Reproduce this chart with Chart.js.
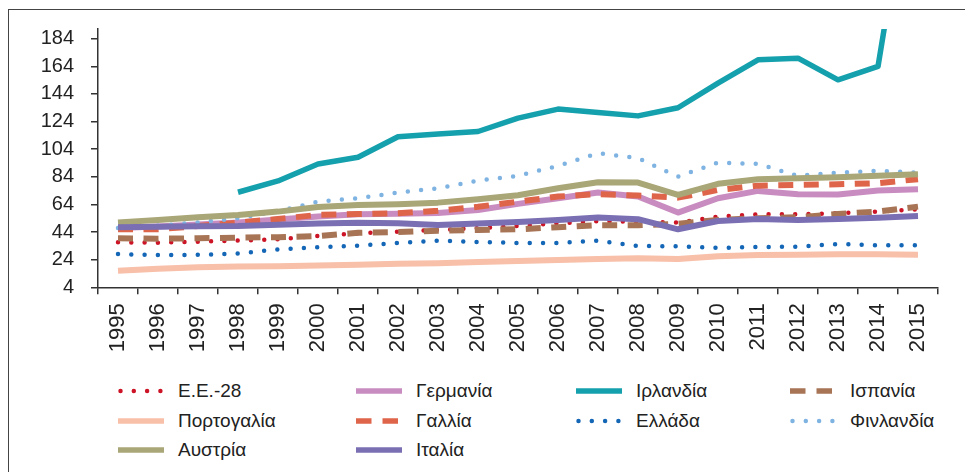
<!DOCTYPE html>
<html>
<head>
<meta charset="utf-8">
<script src="https://cdn.jsdelivr.net/npm/chart.js@4/dist/chart.umd.min.js"></script>
<style>
  body { margin: 0; background: #fff; font-family: "Liberation Sans", Arial, sans-serif; }
  #wrap { position: relative; width: 965px; height: 472px; overflow: hidden; }
  #frame { position: absolute; left: 8px; top: 9px; right: -2px; bottom: -2px;
           border-top: 1px solid #444; border-left: 1px solid #444; }
  #chart { position: absolute; left: 0; top: 0; }
  .item { position: absolute; height: 24px; display: flex; align-items: center;
          font-size: 19px; color: #222; white-space: nowrap; }
  .item svg { width: 46px; height: 10px; margin-right: 14px; }
</style>
</head>
<body>
<div id="wrap">
  <div id="frame"></div>
  <canvas id="chart" width="965" height="372"></canvas>
  <div id="legend"></div>
</div>
<script>
const years = ["1995","1996","1997","1998","1999","2000","2001","2002","2003","2004","2005",
               "2006","2007","2008","2009","2010","2011","2012","2013","2014","2015"];
const yTicks = [4, 24, 44, 64, 84, 104, 124, 144, 164, 184];

const eu28     = [36.6, 36.3, 37, 37.8, 38.8, 41.2, 43, 44.3, 45.5, 46.8, 48.4, 50.4, 51.8, 51.5, 50.8, 55.2, 56.9, 56.9, 57.6, 58.8, 60.5];
const germany  = [47, 48, 49.5, 51, 53, 55.2, 56.9, 57.3, 57.8, 60, 64.4, 68.5, 72.6, 69.7, 58.1, 68.5, 73.8, 71.4, 71.2, 74, 75];
const ireland  = [null, null, null, 72.8, 81, 93.3, 98.2, 113, 114.9, 116.8, 126.5, 133, 130.5, 128.1, 134, 151.8, 168.7, 169.9, 154.2, 163.9, 340];
const spain    = [39.5, 39.2, 39.5, 40, 40.3, 41, 43.5, 44, 45, 45.5, 46, 47.5, 49, 49, 49.9, 52.8, 54, 54.7, 57.1, 58.8, 62.4];
const portugal = [16, 17.5, 18.5, 19, 19.3, 19.8, 20.3, 21, 21.5, 22.3, 23, 23.7, 24.5, 25, 24.5, 26.5, 27.3, 27.5, 28, 28, 27.6];
const france   = [46, 46, 48.4, 50.8, 53.5, 56.4, 57, 57.6, 59.4, 62.3, 66, 69.7, 71.5, 70.4, 68.9, 74.5, 77.6, 78.1, 78.6, 79.4, 82.3];
const greece   = [28.1, 27.3, 27.5, 28.4, 31.5, 33, 34.1, 36.1, 37.8, 36.8, 36.1, 36.1, 37.8, 33.9, 33.7, 32.5, 33.2, 33.4, 35.4, 34.4, 34.5];
const finland  = [47, 48.5, 51, 54, 59, 66, 68.5, 72.6, 75.7, 81.3, 84.7, 91.9, 101.1, 97.5, 84.1, 94.3, 93.3, 84.7, 87, 88.3, 87];
const austria  = [51, 52.8, 54.7, 56.4, 58.8, 62.2, 63.6, 64.2, 65.3, 67.8, 70.6, 75.7, 80, 79.8, 70.9, 78.9, 82.3, 83, 83.7, 84.7, 85.9];
const italy    = [47.5, 47.8, 48.2, 48.4, 49.3, 50.2, 50.8, 50.4, 49.1, 50.1, 51.3, 52.8, 54.5, 53.3, 46, 52, 53.5, 52.8, 53.5, 54.4, 55.7];

const dots = [0, 13.3];
const dashes = [15, 10.5];

function series(label, data, color, width, dash) {
  return {
    label: label,
    data: data,
    borderColor: color,
    backgroundColor: color,
    borderWidth: width,
    borderDash: dash || [],
    borderCapStyle: dash === dots ? "round" : "butt",
    borderJoinStyle: "round",
    pointRadius: 0,
    tension: 0,
    spanGaps: false,
    fill: false,
  };
}

const datasets = [
  series("Ε.Ε.-28", eu28, "#cc1426", 4.5, dots),
  series("Γερμανία", germany, "#c98cc0", 6),
  series("Ιρλανδία", ireland, "#14a0ac", 5.5),
  series("Ισπανία", spain, "#a87456", 6, dashes),
  series("Πορτογαλία", portugal, "#f8bfa9", 6),
  series("Γαλλία", france, "#df654a", 6, dashes),
  series("Ελλάδα", greece, "#1466b6", 4.5, dots),
  series("Φινλανδία", finland, "#7fb3e2", 4.5, dots),
  series("Αυστρία", austria, "#a9a677", 6),
  series("Ιταλία", italy, "#7a6fb2", 6),
];
// later series are drawn on top, as in the source figure
datasets.forEach((d, i) => { d.order = -i; });

const chart = new Chart(document.getElementById("chart"), {
  type: "line",
  data: { labels: years, datasets: datasets },
  options: {
    responsive: false,
    animation: false,
    layout: { padding: { top: 29, right: 27, left: 0, bottom: 0 } },
    plugins: { legend: { display: false }, tooltip: { enabled: false } },
    scales: {
      x: {
        offset: true,
        grid: { offset: true, drawOnChartArea: false, drawTicks: true, tickLength: 7, tickColor: "#333", lineWidth: 1.5 },
        border: { display: true, color: "#333", width: 1.5 },
        ticks: { color: "#222", font: { family: "Liberation Sans", size: 22 }, minRotation: 90, maxRotation: 90, padding: 9, autoSkip: false },
        afterFit: (scale) => { scale.height = 372 - 287.3; },
      },
      y: {
        min: 4,
        max: 191,
        grid: { drawOnChartArea: false, drawTicks: true, tickLength: 7, tickColor: "#333", lineWidth: 1.5 },
        border: { display: true, color: "#333", width: 1.5 },
        ticks: { color: "#222", font: { family: "Liberation Sans", size: 20 }, padding: 17 },
        afterBuildTicks: (axis) => { axis.ticks = yTicks.map(v => ({ value: v })); },
        afterFit: (scale) => { scale.width = 98; },
      },
    },
  },
});

// legend laid out in four columns like the original
const colX = [118, 356, 576, 790];
const rowY = [379, 409, 438];
const legend = document.getElementById("legend");
chart.data.datasets.forEach((ds, i) => {
  const item = document.createElement("div");
  item.className = "item";
  item.style.left = colX[i % 4] + "px";
  item.style.top = rowY[Math.floor(i / 4)] + "px";
  const dotted = ds.borderDash === dots;
  const dash = dotted ? "0 13.3" : (ds.borderDash.length ? "15.5 11" : "none");
  const x1 = dotted ? 2.5 : 0;
  item.innerHTML =
    '<svg viewBox="0 0 46 10"><line x1="' + x1 + '" y1="5" x2="46" y2="5" stroke="' + ds.borderColor +
    '" stroke-width="' + (dotted ? 4.5 : 5.5) + '" stroke-dasharray="' + dash +
    '" stroke-linecap="' + (dotted ? "round" : "butt") + '"/></svg>';
  const span = document.createElement("span");
  span.textContent = ds.label;
  item.appendChild(span);
  legend.appendChild(item);
});
</script>
</body>
</html>
